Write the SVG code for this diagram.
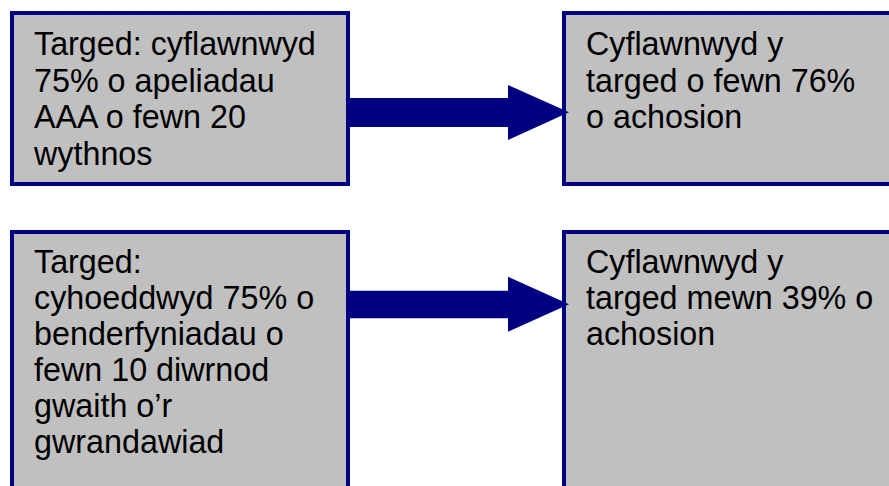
<svg xmlns="http://www.w3.org/2000/svg" width="889" height="486" viewBox="0 0 889 486">
<style>
.box{fill:#C0C0C0;stroke:#000080;stroke-width:4}
.t{font-family:"Liberation Sans",Arial,sans-serif;font-size:32.3px;fill:#000}
.arr{fill:#000080}
</style>
<rect width="889" height="486" fill="#fff"/>
<g id="n1">
<rect class="box" x="12" y="13" width="336" height="171"/>
<text class="t"><tspan x="34" y="55">Targed: cyflawnwyd</tspan><tspan x="34" y="91.5">75% o apeliadau</tspan><tspan x="34" y="128">AAA o fewn 20</tspan><tspan x="34" y="164.5">wythnos</tspan></text>
</g>
<g id="n2">
<rect class="box" x="564" y="13" width="340" height="171"/>
<text class="t"><tspan x="586" y="55">Cyflawnwyd y</tspan><tspan x="586" y="91.5">targed o fewn 76%</tspan><tspan x="586" y="128">o achosion</tspan></text>
</g>
<g id="n3">
<rect class="box" x="12" y="232" width="336" height="270"/>
<text class="t"><tspan x="34" y="273">Targed:</tspan><tspan x="34" y="309">cyhoeddwyd 75% o</tspan><tspan x="34" y="345">benderfyniadau o</tspan><tspan x="34" y="381">fewn 10 diwrnod</tspan><tspan x="34" y="417">gwaith o’r</tspan><tspan x="34" y="453">gwrandawiad</tspan></text>
</g>
<g id="n4">
<rect class="box" x="564" y="232" width="340" height="270"/>
<text class="t"><tspan x="586" y="273">Cyflawnwyd y</tspan><tspan x="586" y="309">targed mewn 39% o</tspan><tspan x="586" y="345">achosion</tspan></text>
</g>
<g id="connectors">
<polygon class="arr" points="348,98 508,98 508,85 569,112.3 508,140 508,127 348,127"/>
<polygon class="arr" points="348,290.7 508,290.7 508,276.7 569,304.3 508,331.7 508,318.3 348,318.3"/>
</g>
</svg>
